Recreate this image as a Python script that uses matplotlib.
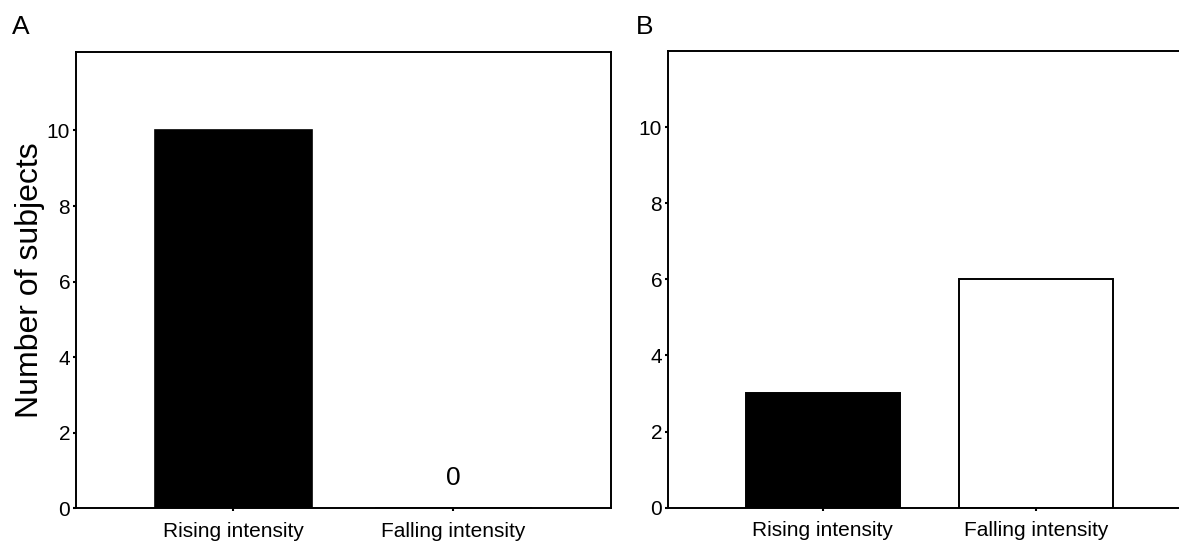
import matplotlib
matplotlib.use("Agg")
import matplotlib.pyplot as plt
import numpy as np

plt.rcParams['font.family'] = ['Liberation Sans', 'DejaVu Sans']

# Data
categories = ["Rising intensity", "Falling intensity"]
counts_a = [10, 0]
counts_b = [3, 6]
colors_b = ["black", "white"]
yticks = [0, 2, 4, 6, 8, 10]

fig = plt.figure(figsize=(11.79, 5.46), dpi=100)

# Panel A
ax_a = fig.add_axes([75.8 / 1179, 1 - 508.4 / 546, (610.7 - 75.8) / 1179, (508.4 - 52.2) / 546])
x = np.arange(len(categories))
ax_a.bar(x, counts_a, width=0.71, color="black", edgecolor="black", linewidth=1.2)
ax_a.set_xlim(-0.717, 1.715)
ax_a.set_ylim(0, 12.07)
for i, v in enumerate(counts_a):
    if v == 0:
        ax_a.text(x[i], 0.5, str(v), ha="center", va="bottom", fontsize=19)
ax_a.set_ylabel("Number of subjects", fontsize=23, labelpad=1.5)
fig.text(11.5 / 1179, 1 - 34.5 / 546, "A", fontsize=19, ha="left", va="baseline")

# Panel B
ax_b = fig.add_axes([667.8 / 1179, 1 - 507.7 / 546, 1 - 667.8 / 1179, (507.7 - 50.5) / 546])
ax_b.bar(x, counts_b, width=0.72, color=colors_b, edgecolor="black", linewidth=1.4)
ax_b.set_xlim(-0.728, 1.672)
ax_b.set_ylim(0, 12.01)
ax_b.spines["right"].set_visible(False)
fig.text(636 / 1179, 1 - 34.5 / 546, "B", fontsize=19, ha="left", va="baseline")

for ax in (ax_a, ax_b):
    ax.set_xticks(x)
    ax.set_xticklabels(categories, fontsize=15)
    ax.set_yticks(yticks)
    ax.set_yticklabels([str(t) for t in yticks], fontsize=15)
    ax.tick_params(axis="y", direction="out", length=2.5, width=1.5, pad=1.5)
    ax.tick_params(axis="x", direction="out", length=2.5, width=1.5, pad=7)
    for s in ax.spines.values():
        s.set_linewidth(1.4)

fig.savefig("out.png", dpi=100)
